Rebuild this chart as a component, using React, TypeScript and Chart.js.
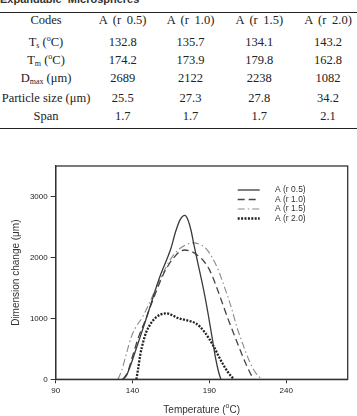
import React, { useEffect, useRef } from "react";
import { Chart, registerables } from "chart.js";
Chart.register(...registerables);

// ---- table data ----
const seriesNames = ["A (r 0.5)", "A (r 1.0)", "A (r 1.5)", "A (r 2.0)"];
const tsValues = ["132.8", "135.7", "134.1", "143.2"];
const tmValues = ["174.2", "173.9", "179.8", "162.8"];
const dmaxValues = ["2689", "2122", "2238", "1082"];
const particleSizes = ["25.5", "27.3", "27.8", "34.2"];
const spanValues = ["1.7", "1.7", "1.7", "2.1"];

// ---- chart data ----
const xTicks = [90, 140, 190, 240];
const yTicks = [0, 1000, 2000, 3000];

const tempR05 = [133.5, 136, 139, 143, 147, 150, 154, 158, 162, 165, 168, 171, 174, 176, 178, 180, 183, 186, 189, 192, 194, 196, 197.5];
const dimR05 = [0, 60, 250, 550, 850, 1080, 1400, 1700, 1950, 2150, 2420, 2620, 2689, 2620, 2450, 2200, 1850, 1500, 1100, 650, 350, 120, 0];

const tempR10 = [134, 137, 140, 144, 148, 152, 156, 160, 164, 168, 171, 174, 178, 182, 186, 190, 194, 198, 202, 206, 210, 214, 217, 219];
const dimR10 = [0, 130, 380, 700, 950, 1220, 1480, 1720, 1900, 2030, 2100, 2122, 2100, 2040, 1950, 1800, 1560, 1280, 1000, 740, 480, 240, 80, 0];

const tempR15 = [130.5, 133, 136, 139, 142, 146, 150, 155, 160, 165, 170, 175, 179.8, 184, 188, 192, 196, 200, 204, 208, 212, 216, 220, 224];
const dimR15 = [0, 150, 420, 680, 850, 1000, 1200, 1480, 1750, 1980, 2130, 2210, 2238, 2210, 2140, 1990, 1780, 1500, 1200, 850, 560, 300, 110, 0];

const tempR20 = [142.5, 143.5, 145, 147, 149, 152, 155, 158, 162, 166, 170, 174, 178, 181, 184, 187, 190, 193, 196, 199, 202, 204.5, 206];
const dimR20 = [0, 150, 400, 620, 780, 920, 1010, 1060, 1082, 1050, 1000, 975, 950, 920, 860, 770, 660, 530, 380, 240, 120, 40, 0];

const SANS = "'Liberation Sans', Arial, sans-serif";
const SERIF = "'Liberation Serif', 'Times New Roman', serif";

const styles = [
  { color: "#3a3a3a", width: 1.3, dash: [] as number[] },
  { color: "#444444", width: 1.3, dash: [7, 4] },
  { color: "#8a8a8a", width: 1.1, dash: [7, 3, 1.5, 3] },
  { color: "#222222", width: 2.3, dash: [2, 1.4] },
];

const toPoints = (xs: number[], ys: number[]) => xs.map((x, i) => ({ x, y: ys[i] }));

const decorPlugin = {
  id: "decor",
  afterDraw(chart: any) {
    const { ctx, chartArea } = chart;
    const { left, right, top, bottom } = chartArea;
    ctx.save();
    // frame
    ctx.strokeStyle = "#333";
    ctx.lineWidth = 1.3;
    ctx.setLineDash([]);
    ctx.strokeRect(left, top, right - left, bottom - top);
    // legend
    const rowY = [24, 33.5, 43, 52.5];
    ctx.font = `8.5px ${SANS}`;
    ctx.textBaseline = "middle";
    ctx.textAlign = "left";
    seriesNames.forEach((name, i) => {
      const s = styles[i];
      const y = top + rowY[i];
      ctx.beginPath();
      ctx.strokeStyle = s.color;
      ctx.lineWidth = s.width;
      ctx.setLineDash(s.dash);
      ctx.moveTo(right - 110, y);
      ctx.lineTo(right - 88, y);
      ctx.stroke();
      ctx.setLineDash([]);
      ctx.fillStyle = "#333";
      ctx.fillText(name, right - 72.7, y);
    });
    // axis titles
    ctx.fillStyle = "#333";
    ctx.font = `10px ${SANS}`;
    ctx.textBaseline = "middle";
    const cx = (left + right) / 2;
    const tY = 270;
    const part1 = "Temperature (";
    const part2 = "C)";
    ctx.textAlign = "left";
    const w1 = ctx.measureText(part1).width;
    ctx.font = `7px ${SANS}`;
    const wo = ctx.measureText("o").width;
    ctx.font = `10px ${SANS}`;
    const w2 = ctx.measureText(part2).width;
    const x0 = cx - (w1 + wo + w2) / 2;
    ctx.fillText(part1, x0, tY);
    ctx.font = `7px ${SANS}`;
    ctx.fillText("o", x0 + w1, tY - 4);
    ctx.font = `10px ${SANS}`;
    ctx.fillText(part2, x0 + w1 + wo, tY);
    ctx.save();
    ctx.translate(16.7, (top + bottom) / 2);
    ctx.rotate(-Math.PI / 2);
    ctx.textAlign = "center";
    ctx.fillText("Dimension change (\u03bcm)", 0, 0);
    ctx.restore();
    ctx.restore();
  },
};

function ChartCanvas() {
  const ref = useRef<HTMLCanvasElement>(null);
  useEffect(() => {
    if (!ref.current) return;
    const series = [
      toPoints(tempR05, dimR05),
      toPoints(tempR10, dimR10),
      toPoints(tempR15, dimR15),
      toPoints(tempR20, dimR20),
    ];
    const chart = new Chart(ref.current, {
      type: "line",
      data: {
        datasets: series.map((pts, i) => ({
          label: seriesNames[i],
          data: pts,
          borderColor: styles[i].color,
          borderWidth: styles[i].width,
          borderDash: styles[i].dash,
          pointRadius: 0,
          fill: false,
          tension: 0.4,
          cubicInterpolationMode: "monotone" as const,
        })),
      },
      options: {
        animation: false,
        responsive: false,
        devicePixelRatio: 1,
        layout: { padding: { top: 26, right: 9.3, left: 0, bottom: 0 } },
        plugins: { legend: { display: false }, tooltip: { enabled: false } },
        scales: {
          x: {
            type: "linear",
            min: 90,
            max: 280,
            afterBuildTicks: (a: any) => {
              a.ticks = xTicks.map((v) => ({ value: v }));
            },
            afterFit: (s: any) => {
              s.height = 36.7;
            },
            grid: { drawOnChartArea: false, drawTicks: true, tickLength: 4, color: "#333", lineWidth: 1 },
            border: { display: true, color: "#333", width: 1.3 },
            ticks: {
              font: { family: SANS, size: 8 },
              color: "#222",
              padding: 3,
              maxRotation: 0,
              autoSkip: false,
              callback: (v: any) => String(v),
            },
          },
          y: {
            type: "linear",
            min: 0,
            max: 3500,
            afterBuildTicks: (a: any) => {
              a.ticks = yTicks.map((v) => ({ value: v }));
            },
            afterFit: (s: any) => {
              s.width = 55.7;
            },
            grid: { drawOnChartArea: false, drawTicks: true, tickLength: 5, color: "#333", lineWidth: 1 },
            border: { display: true, color: "#333", width: 1.3 },
            ticks: {
              font: { family: SANS, size: 8 },
              color: "#222",
              padding: 3,
              autoSkip: false,
              callback: (v: any) => String(v),
            },
          },
        },
      },
      plugins: [decorPlugin],
    });
    return () => chart.destroy();
  }, []);
  return (
    <canvas
      ref={ref}
      width={357}
      height={276}
      style={{ position: "absolute", left: 0, top: 140, width: 357, height: 276 }}
    />
  );
}

const sub: React.CSSProperties = { fontSize: 8, verticalAlign: "-2px", lineHeight: 0 };
const sup: React.CSSProperties = { fontSize: 8, verticalAlign: "5px", lineHeight: 0 };

const rowLabels: React.ReactNode[] = [
  "Codes",
  <>T<span style={sub}>s</span> (<span style={sup}>o</span>C)</>,
  <>T<span style={sub}>m</span> (<span style={sup}>o</span>C)</>,
  <>D<span style={sub}>max</span> (μm)</>,
  "Particle size (μm)",
  "Span",
];
const rowValues = [seriesNames, tsValues, tmValues, dmaxValues, particleSizes, spanValues];
const rowCenters = [21, 42.5, 60.5, 79, 99, 117];
const colCenters = [46, 122.7, 190.5, 259.3, 328];

export default function App() {
  return (
    <div
      style={{
        position: "absolute",
        left: 0,
        top: 0,
        width: 357,
        height: 416,
        overflow: "hidden",
        background: "#fff",
      }}
    >
      <div
        style={{
          position: "absolute",
          left: 0,
          top: -6,
          font: `bold 11px ${SANS}`,
          lineHeight: "11px",
          color: "#333",
          whiteSpace: "nowrap",
          wordSpacing: 3,
        }}
      >
        Expandable Microspheres
      </div>
      <div style={{ position: "absolute", left: 0, top: 11.5, width: 357, height: 1.5, background: "#222" }} />
      {rowValues.map((vals, r) => (
        <React.Fragment key={r}>
          {[rowLabels[r], ...vals].map((cell, c) => (
            <div
              key={c}
              style={{
                position: "absolute",
                left: colCenters[c] - 60,
                width: 120,
                top: rowCenters[r] - 8,
                height: 16,
                lineHeight: "16px",
                textAlign: "center",
                font: `12.5px ${SERIF}`,
                color: "#222",
                whiteSpace: "nowrap",
                wordSpacing: c > 0 && r === 0 ? 2.5 : 0,
              }}
            >
              {cell}
            </div>
          ))}
        </React.Fragment>
      ))}
      <div style={{ position: "absolute", left: 0, top: 127.5, width: 357, height: 1.5, background: "#222" }} />
      <ChartCanvas />
    </div>
  );
}
